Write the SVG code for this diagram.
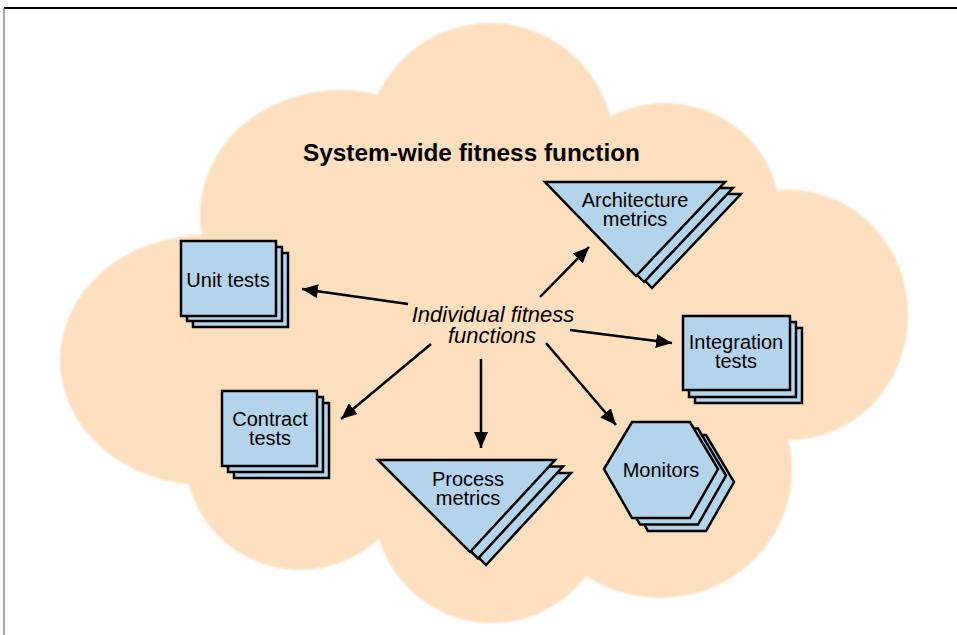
<svg xmlns="http://www.w3.org/2000/svg" width="957" height="635" viewBox="0 0 957 635">
<style>
.sh{fill:#B4D4EB;stroke:#000;stroke-width:2.5;stroke-linejoin:miter}
.lbl{font-family:"Liberation Sans",Arial,sans-serif;font-size:20px;fill:#000;text-anchor:middle}
.ttl{font-family:"Liberation Sans",Arial,sans-serif;font-size:24px;font-weight:bold;fill:#000}
.mid{font-family:"Liberation Sans",Arial,sans-serif;font-size:22px;font-style:italic;fill:#000;text-anchor:middle}
.con{stroke:#000;stroke-width:2.5;fill:none;marker-end:url(#ah)}
</style>
<defs>
<marker id="ah" markerUnits="userSpaceOnUse" markerWidth="16" markerHeight="14" refX="16" refY="7" orient="auto">
<path d="M0,0 L16,7 L0,14 z" fill="#000"/>
</marker>
<filter id="soft" x="-5%" y="-5%" width="110%" height="110%"><feGaussianBlur stdDeviation="1.3"/></filter>
</defs>
<rect width="957" height="635" fill="#fff"/>
<line x1="4" y1="8" x2="957" y2="8" stroke="#000" stroke-width="2"/>
<line x1="4" y1="8" x2="4" y2="635" stroke="#555" stroke-width="1"/>
<g id="cloud" fill="#FCDFBE" filter="url(#soft)">
<ellipse cx="490" cy="150" rx="125" ry="127"/>
<ellipse cx="340" cy="215" rx="140" ry="125"/>
<ellipse cx="665" cy="215" rx="115" ry="112"/>
<ellipse cx="790" cy="315" rx="118" ry="125"/>
<ellipse cx="660" cy="470" rx="132" ry="128"/>
<ellipse cx="492" cy="505" rx="118" ry="118"/>
<ellipse cx="300" cy="455" rx="115" ry="115"/>
<ellipse cx="205" cy="360" rx="145" ry="125"/>
<ellipse cx="490" cy="340" rx="300" ry="200"/>
</g>
<text class="ttl" x="303" y="161" textLength="337" lengthAdjust="spacingAndGlyphs">System-wide fitness function</text>
<g id="connectors">
<line class="con" x1="408" y1="304" x2="302" y2="289"/>
<line class="con" x1="540" y1="297" x2="589" y2="247"/>
<line class="con" x1="570" y1="330" x2="672" y2="343"/>
<line class="con" x1="431" y1="344" x2="341" y2="419"/>
<line class="con" x1="481" y1="359" x2="481" y2="448"/>
<line class="con" x1="546" y1="343" x2="616" y2="425"/>
</g>
<g id="center">
<text class="mid"><tspan x="493" y="322">Individual fitness</tspan><tspan x="492" y="343">functions</tspan></text>
</g>
<g id="unit-tests">
<rect class="sh" x="193" y="253" width="95" height="74"/>
<rect class="sh" x="187" y="247" width="95" height="74"/>
<rect class="sh" x="181" y="241" width="95" height="75"/>
<text class="lbl" x="228" y="287">Unit tests</text>
</g>
<g id="contract-tests">
<rect class="sh" x="234" y="403" width="95" height="75"/>
<rect class="sh" x="228" y="397" width="95" height="75"/>
<rect class="sh" x="222" y="391" width="95" height="75"/>
<text class="lbl"><tspan x="270" y="426">Contract</tspan><tspan x="270" y="445">tests</tspan></text>
</g>
<g id="integration-tests">
<rect class="sh" x="695" y="328" width="107" height="75"/>
<rect class="sh" x="689" y="322" width="107" height="75"/>
<rect class="sh" x="683" y="316" width="107" height="74"/>
<text class="lbl"><tspan x="736" y="349">Integration</tspan><tspan x="736" y="368">tests</tspan></text>
</g>
<g id="architecture-metrics">
<polygon class="sh" points="561,194 741,194 652,288"/>
<polygon class="sh" points="553,188 733,188 644,282"/>
<polygon class="sh" points="545,182 725,182 636,276"/>
<text class="lbl"><tspan x="635" y="207">Architecture</tspan><tspan x="635" y="226">metrics</tspan></text>
</g>
<g id="process-metrics">
<polygon class="sh" points="394,473 571,473 486,565"/>
<polygon class="sh" points="386,466.5 563,466.5 478,558.5"/>
<polygon class="sh" points="378,460 555,460 470,552"/>
<text class="lbl"><tspan x="468" y="486">Process</tspan><tspan x="468" y="505">metrics</tspan></text>
</g>
<g id="monitors">
<polygon class="sh" points="620,482 648,435 706,435 734,482 706,531 648,531"/>
<polygon class="sh" points="612,475.5 640,428.5 698,428.5 726,475.5 698,524.5 640,524.5"/>
<polygon class="sh" points="604,469 632,422 690,422 718,469 690,518 632,518"/>
<text class="lbl" x="661" y="477">Monitors</text>
</g>
</svg>
